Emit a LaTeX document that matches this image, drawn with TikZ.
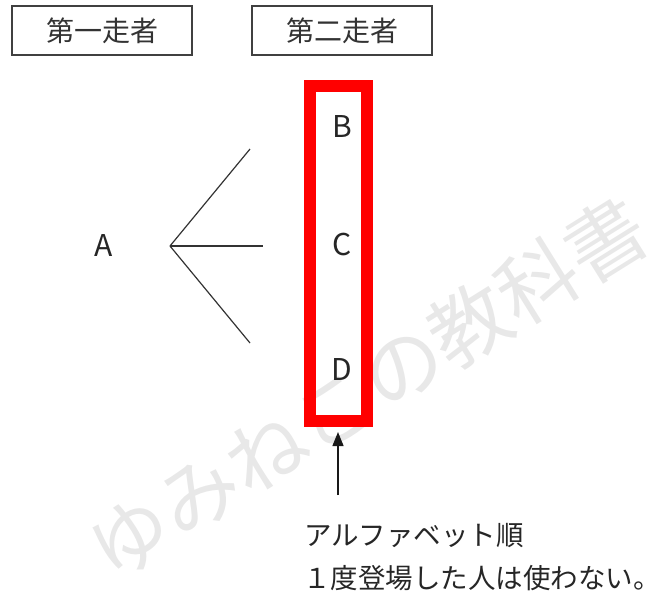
\documentclass[tikz,border=0pt]{standalone}
\usepackage{fontspec}
\setmainfont{Noto Sans CJK JP}
\usetikzlibrary{positioning,arrows.meta}

\begin{document}
\begin{tikzpicture}[x=1pt,y=-1pt,
		header/.style={draw=black!75,line width=1.2pt,minimum width=180pt,minimum height=49pt,font=\fontsize{28}{32}\selectfont,text=black!80},
		runner/.style={font=\fontsize{30}{34}\selectfont,text=black!85},
		column/.style={draw=red,line width=12pt,minimum width=57pt,minimum height=335pt},
		branch/.style={draw=black!80,line width=1.2pt},
		pointer/.style={draw=black!90,line width=1.3pt,-{Triangle[length=14pt,width=11pt]},shorten >=5pt},
		note/.style={anchor=west,inner sep=0pt,text=black!85,font=\fontsize{27.5}{30}\selectfont},
		]
		\useasboundingbox (0,0) rectangle (653,598);
		% watermark
		\node[rotate=32,text=black!9,font=\fontsize{80}{80}\selectfont] (mark) at (368,388) {ゆみねこの教科書};

		\node[header] (first) at (102,30.5) {第一走者};
		\node[header] (second) at (342,30.5) {第二走者};

		\node[runner] (A) at (103.5,245.5) {A};
		\node[column] (col) at (338,253.5) {};
		\node[runner] (B) at (342,126) {B};
		\node[runner] (C) at (342,244) {C};
		\node[runner] (D) at (342,369) {D};

		\coordinate (fork) at (170,246);
		\coordinate (toB) at (250,149);
		\coordinate (toC) at (263,246);
		\coordinate (toD) at (250,343);
		\foreach \tip in {toB,toC,toD}
			\draw[branch] (fork) -- (\tip);

		\coordinate (tail) at (338,495);
		\draw[pointer] (tail) -- (col.south);

		\node[note] (rule1) at (304,536) {アルファベット順};
		\node[note] (rule2) at (303,578) {１度登場した人は使わない。};
\end{tikzpicture}
\end{document}
